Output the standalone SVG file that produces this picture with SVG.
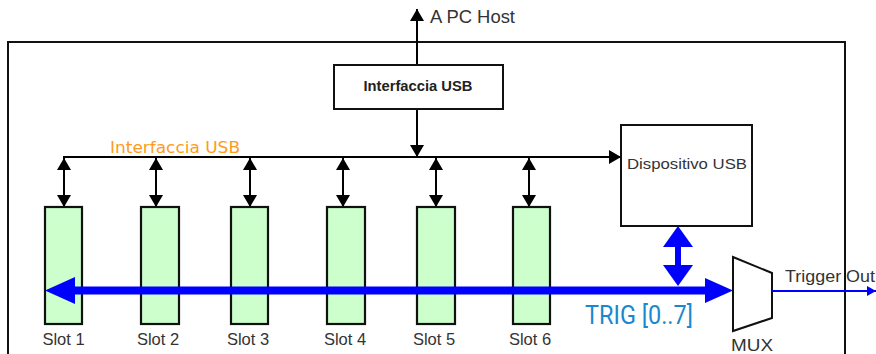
<svg xmlns="http://www.w3.org/2000/svg" width="876" height="354" viewBox="0 0 876 354">
  <style>
    .frame { fill: none; stroke: #111; stroke-width: 2; }
    .box { fill: #fff; stroke: #111; stroke-width: 2; }
    .slot { fill: #ccffcc; stroke: #111; stroke-width: 2.2; }
    .wire { fill: none; stroke: #000; stroke-width: 2; }
    .lbl { font-family: "Liberation Sans", Arial, sans-serif; font-size: 16.5px; fill: #333; }
    .bold { font-family: "Liberation Sans", Arial, sans-serif; font-size: 14.5px; font-weight: bold; fill: #222; }
    .bus-label { font-family: "DejaVu Sans", "Liberation Sans", sans-serif; font-size: 16px; fill: #ff9a20; }
    .trig { font-family: Roboto, "Liberation Sans", sans-serif; font-size: 25px; fill: #1a88d0; }
    .blue { fill: #0000ff; }
  </style>
  <defs>
    <marker id="ahBig" viewBox="0 0 10 10" refX="10" refY="5" markerWidth="12" markerHeight="14" markerUnits="userSpaceOnUse" orient="auto-start-reverse" preserveAspectRatio="none">
      <path d="M0,0 L10,5 L0,10 Z" fill="#000"/>
    </marker>
    <marker id="ahBlue" viewBox="0 0 10 10" refX="10" refY="5" markerWidth="9" markerHeight="10" markerUnits="userSpaceOnUse" orient="auto" preserveAspectRatio="none">
      <path d="M0,0 L10,5 L0,10 Z" fill="#0000ff"/>
    </marker>
  </defs>

  <!-- enclosure -->
  <path class="frame" d="M8,356 L8,42 L845,42 L845,356"/>

  <g id="connectors">
    <!-- host link -->
    <line class="wire" x1="417" y1="65" x2="417" y2="9" marker-end="url(#ahBig)"/>
    <line class="wire" x1="417" y1="109" x2="417" y2="157" marker-end="url(#ahBig)"/>
    <!-- internal USB bus -->
    <line class="wire" x1="63" y1="157" x2="621" y2="157" marker-end="url(#ahBig)"/>
    <!-- slot links -->
    <line class="wire" x1="64" y1="158" x2="64" y2="207" marker-start="url(#ahBig)" marker-end="url(#ahBig)"/>
    <line class="wire" x1="156" y1="158" x2="156" y2="207" marker-start="url(#ahBig)" marker-end="url(#ahBig)"/>
    <line class="wire" x1="250" y1="158" x2="250" y2="207" marker-start="url(#ahBig)" marker-end="url(#ahBig)"/>
    <line class="wire" x1="343" y1="158" x2="343" y2="207" marker-start="url(#ahBig)" marker-end="url(#ahBig)"/>
    <line class="wire" x1="436" y1="158" x2="436" y2="207" marker-start="url(#ahBig)" marker-end="url(#ahBig)"/>
    <line class="wire" x1="529" y1="158" x2="529" y2="207" marker-start="url(#ahBig)" marker-end="url(#ahBig)"/>
  </g>

  <g id="usb-interface">
    <rect class="box" x="334" y="65" width="169" height="44"/>
    <text class="bold" x="418" y="91" text-anchor="middle" textLength="109" lengthAdjust="spacingAndGlyphs">Interfaccia USB</text>
  </g>

  <text class="lbl" x="430" y="23" style="font-size:17.5px" textLength="85" lengthAdjust="spacingAndGlyphs">A PC Host</text>
  <text class="bus-label" x="110" y="153" textLength="130" lengthAdjust="spacingAndGlyphs">Interfaccia USB</text>

  <g id="usb-device">
    <rect class="box" x="621" y="125" width="131" height="101"/>
    <text class="lbl" x="687" y="169" text-anchor="middle" style="font-size:15.5px" textLength="120" lengthAdjust="spacingAndGlyphs">Dispositivo USB</text>
  </g>

  <g id="slot1"><rect class="slot" x="45" y="207" width="37" height="117"/><text class="lbl" x="63.5" y="345" text-anchor="middle">Slot 1</text></g>
  <g id="slot2"><rect class="slot" x="141" y="207" width="38" height="117"/><text class="lbl" x="158" y="345" text-anchor="middle">Slot 2</text></g>
  <g id="slot3"><rect class="slot" x="231" y="207" width="37" height="117"/><text class="lbl" x="248" y="345" text-anchor="middle">Slot 3</text></g>
  <g id="slot4"><rect class="slot" x="327" y="207" width="38" height="117"/><text class="lbl" x="345" y="345" text-anchor="middle">Slot 4</text></g>
  <g id="slot5"><rect class="slot" x="417" y="207" width="38" height="117"/><text class="lbl" x="434" y="345" text-anchor="middle">Slot 5</text></g>
  <g id="slot6"><rect class="slot" x="513" y="207" width="37" height="117"/><text class="lbl" x="530" y="345" text-anchor="middle">Slot 6</text></g>

  <g id="trigger-bus">
    <!-- wide bidirectional bus -->
    <rect class="blue" x="74" y="286.5" width="632" height="8"/>
    <polygon class="blue" points="45,290.5 75,277 75,304"/>
    <polygon class="blue" points="733,290.5 705,278 705,303"/>
    <!-- device to bus link -->
    <rect class="blue" x="675" y="246" width="6" height="20"/>
    <polygon class="blue" points="678,226 663,247 693,247"/>
    <polygon class="blue" points="678,286 663,265 693,265"/>
    <text class="trig" x="585" y="324" textLength="108" lengthAdjust="spacingAndGlyphs">TRIG [0..7]</text>
  </g>

  <g id="mux">
    <polygon class="box" points="733,257 772,273 772,318 733,331"/>
    <text class="lbl" x="752" y="351" text-anchor="middle" textLength="42" lengthAdjust="spacingAndGlyphs">MUX</text>
  </g>

  <g id="trigger-out">
    <line x1="772" y1="291" x2="876" y2="291" stroke="#0000ff" stroke-width="2" marker-end="url(#ahBlue)"/>
    <text class="lbl" x="785" y="282" textLength="90" lengthAdjust="spacingAndGlyphs">Trigger Out</text>
  </g>
</svg>
